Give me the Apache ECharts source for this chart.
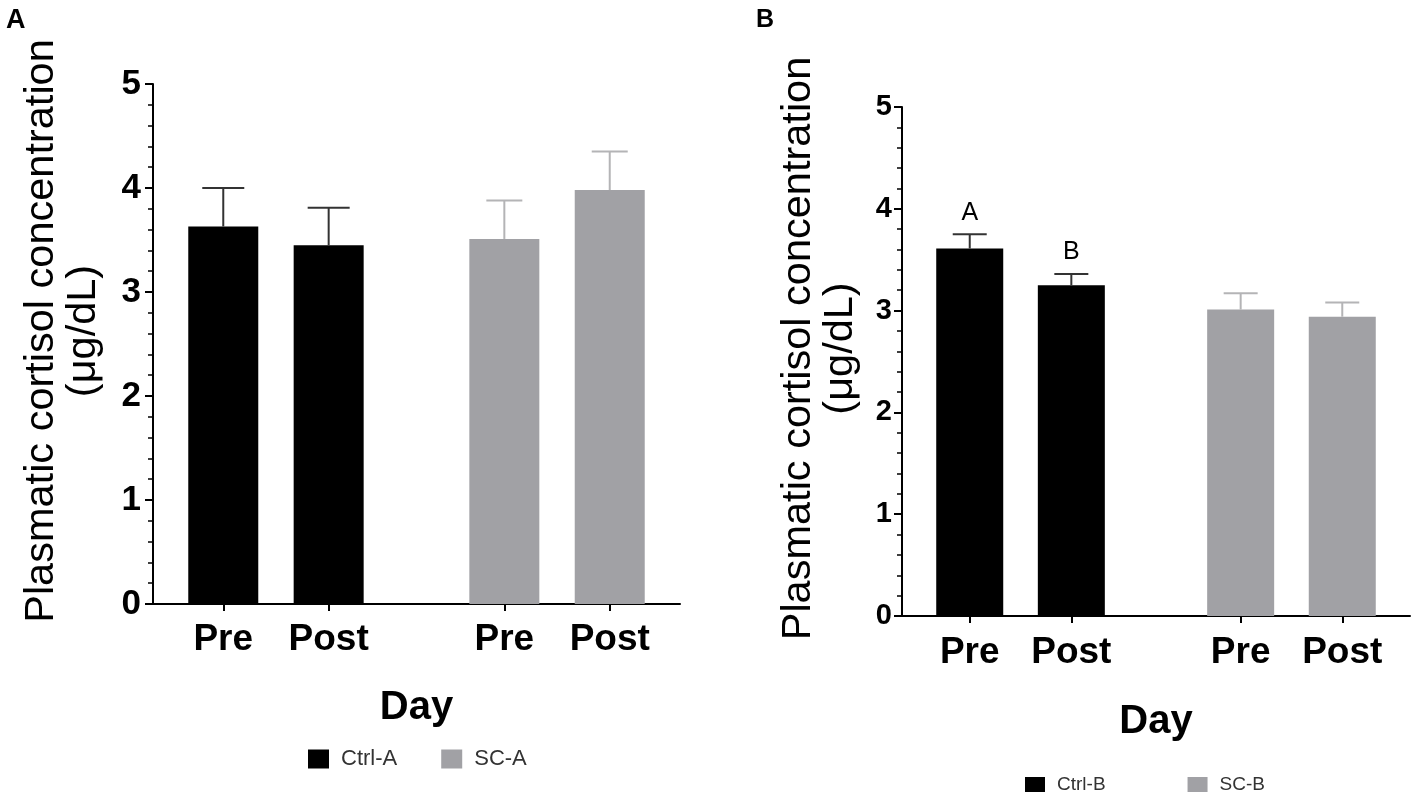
<!DOCTYPE html>
<html>
<head>
<meta charset="utf-8">
<script src="https://cdn.jsdelivr.net/npm/echarts@6/dist/echarts.min.js"></script>
<style>
html, body { margin: 0; padding: 0; background: #fff; }
#chart { width: 1417px; height: 797px; }
</style>
</head>
<body>
<div id="chart"></div>
<script>
var days = ['Pre', 'Post'];
var ctrlA = [3.63, 3.45];
var ctrlASem = [0.37, 0.36];
var scA = [3.51, 3.98];
var scASem = [0.37, 0.37];
var ctrlB = [3.61, 3.25];
var ctrlBSem = [0.14, 0.11];
var scB = [3.01, 2.94];
var scBSem = [0.16, 0.14];
var ctrlBLetters = ['A', 'B'];
var yTicks = [0, 1, 2, 3, 4, 5];

var FONT = '"Liberation Sans", Arial, Helvetica, sans-serif';
var BLACK = '#000000';
var GRAY = '#a1a1a5';

// two groups of two days, with a wider gap between groups
function slot(group, day) {
    return 2 / 3 + day + group * 8 / 3;
}
var tickSlots = [slot(0, 0), slot(0, 1), slot(1, 0), slot(1, 1)];
var tickNames = days.concat(days);

function barData(group, values) {
    return values.map(function (v, j) {
        return [slot(group, j), v];
    });
}
function errData(group, values, sem) {
    return values.map(function (v, j) {
        return [slot(group, j), v, sem[j]];
    });
}

function errorBar(color, capHalf, letters) {
    return function (params, api) {
        var x = api.value(0);
        var m = api.value(1);
        var top = m + api.value(2);
        var p0 = api.coord([x, m]);
        var p1 = api.coord([x, top]);
        var kids = [
            {type: 'line', shape: {x1: p0[0], y1: p0[1], x2: p1[0], y2: p1[1]},
                style: {stroke: color, lineWidth: 2}},
            {type: 'line', shape: {x1: p1[0] - capHalf, y1: p1[1], x2: p1[0] + capHalf, y2: p1[1]},
                style: {stroke: color, lineWidth: 2}}
        ];
        if (letters) {
            kids.push({type: 'text', x: p1[0], y: p1[1] - 9,
                style: {text: letters[params.dataIndex], fill: '#000', fontSize: 25,
                    fontFamily: FONT, align: 'center', verticalAlign: 'bottom'}});
        }
        return {type: 'group', children: kids};
    };
}

function xAxisFor(grid, fontSize, margin, nameGap) {
    return {
        type: 'value', gridIndex: grid, min: 0, max: 5,
        name: 'Day', nameLocation: 'middle', nameGap: nameGap,
        nameTextStyle: {fontSize: 40, fontWeight: 'bold', color: '#000', fontFamily: FONT},
        axisLine: {show: true, onZero: false, lineStyle: {color: '#000', width: 2}},
        axisTick: {show: true, customValues: tickSlots, length: 7, lineStyle: {color: '#000', width: 2}},
        axisLabel: {
            customValues: tickSlots, margin: margin, fontSize: fontSize, fontWeight: 'bold',
            color: '#000', fontFamily: FONT,
            formatter: function (v) {
                var i = tickSlots.indexOf(v);
                return i < 0 ? '' : tickNames[i];
            }
        },
        splitLine: {show: false}
    };
}

function yAxisFor(grid, fontSize, margin, nameGap) {
    return {
        type: 'value', gridIndex: grid, min: yTicks[0], max: yTicks[yTicks.length - 1], interval: 1,
        name: 'Plasmatic cortisol concentration\n(\u03bcg/dL)', nameLocation: 'middle', nameGap: nameGap,
        nameTextStyle: {fontSize: 41.5, lineHeight: 42, color: '#000', fontFamily: FONT, align: 'center',
            padding: [0, 0, 0, 26]},
        axisLine: {show: true, lineStyle: {color: '#000', width: 2}},
        axisTick: {show: true, length: 8, lineStyle: {color: '#000', width: 2}},
        minorTick: {show: true, splitNumber: 5, length: 5, lineStyle: {color: '#000', width: 1.5}},
        axisLabel: {fontSize: fontSize, fontWeight: 'bold', color: '#000', fontFamily: FONT, margin: margin},
        splitLine: {show: false}
    };
}

function bars(name, grid, group, values, color, width) {
    return {
        name: name, type: 'bar', xAxisIndex: grid, yAxisIndex: grid,
        data: barData(group, values), barWidth: width, barGap: '-100%',
        itemStyle: {color: color}, silent: true
    };
}
function errors(grid, group, values, sem, color, capHalf, letters) {
    return {
        type: 'custom', xAxisIndex: grid, yAxisIndex: grid, z: 3, silent: true,
        data: errData(group, values, sem), encode: {x: 0, y: 1},
        renderItem: errorBar(color, capHalf, letters)
    };
}

var chart = echarts.init(document.getElementById('chart'));
chart.setOption({
    backgroundColor: '#fff',
    animation: false,
    textStyle: {fontFamily: FONT},
    title: [
        {text: 'A', left: 6, top: 7, padding: 0, textStyle: {fontSize: 27, fontWeight: 'bold', color: '#000', fontFamily: FONT}},
        {text: 'B', left: 756, top: 8, padding: 0, textStyle: {fontSize: 25, fontWeight: 'bold', color: '#000', fontFamily: FONT}}
    ],
    legend: [
        {data: ['Ctrl-A', 'SC-A'], left: 308, top: 748, padding: 0, icon: 'rect', itemWidth: 21, itemHeight: 19, itemGap: 44,
            textStyle: {fontSize: 22, color: '#333', fontFamily: FONT, padding: [0, 0, 0, 7]}},
        {data: ['Ctrl-B', 'SC-B'], left: 1025, top: 775, padding: 0, icon: 'rect', itemWidth: 20, itemHeight: 15, itemGap: 82,
            textStyle: {fontSize: 19, color: '#333', fontFamily: FONT, padding: [0, 0, 0, 7]}}
    ],
    grid: [
        {left: 153, top: 84, width: 527, bottom: 193},
        {left: 902, top: 107, width: 508, bottom: 181}
    ],
    xAxis: [xAxisFor(0, 37, 17, 84), xAxisFor(1, 37, 18, 86)],
    yAxis: [yAxisFor(0, 35, 12, 48), yAxisFor(1, 29, 10, 40)],
    series: [
        bars('Ctrl-A', 0, 0, ctrlA, BLACK, 70),
        bars('SC-A', 0, 1, scA, GRAY, 70),
        bars('Ctrl-B', 1, 0, ctrlB, BLACK, 67),
        bars('SC-B', 1, 1, scB, GRAY, 67),
        errors(0, 0, ctrlA, ctrlASem, '#333', 21),
        errors(0, 1, scA, scASem, '#b4b4b6', 18),
        errors(1, 0, ctrlB, ctrlBSem, '#333', 17, ctrlBLetters),
        errors(1, 1, scB, scBSem, '#b4b4b6', 17)
    ]
});
</script>
</body>
</html>
